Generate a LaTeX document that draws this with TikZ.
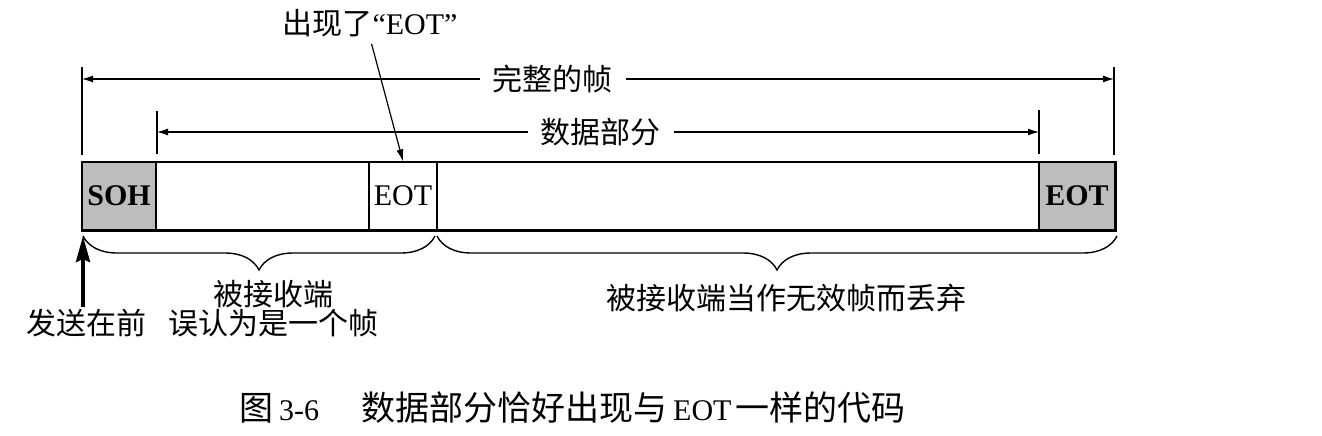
\documentclass[tikz,border=0pt]{standalone}
\usepackage{fontspec}
\setmainfont{Liberation Serif}
\newfontfamily\cjk{Noto Sans CJK SC}
\usetikzlibrary{arrows.meta,decorations.pathreplacing}
\definecolor{cellgray}{gray}{0.74}
\tikzset{
  thin line/.style={line width=1.2pt},
  cell/.style={draw, thin line, minimum height=68pt, inner sep=0pt, font=\fontsize{30}{31}\selectfont},
  dimline/.style={thin line, {Latex[length=11pt,width=7pt]}-{Latex[length=11pt,width=7pt]}},
  dimlabel/.style={fill=white, inner xsep=13pt, inner ysep=2pt, font=\cjk\fontsize{30}{32}\selectfont},
  label/.style={font=\cjk\fontsize{30}{32}\selectfont, inner sep=1pt},
  bracestyle/.style={line width=1.4pt, decorate, decoration={brace, mirror, amplitude=34pt, aspect=0.5}},
  bigarrow/.style={line width=3.8pt, -{Stealth[length=26pt,width=14pt,inset=3pt]}},
  pointer/.style={thin line, -{Latex[length=12pt,width=7pt]}, shorten <=6pt}
}
\newcommand\capcjk[1]{{\cjk\fontsize{34}{36}\selectfont #1}}
\begin{document}
\begin{tikzpicture}[x=1pt,y=-1pt]
\useasboundingbox (0,0) rectangle (1322,436);
% frame
\node[draw, thin line, minimum width=1033pt, minimum height=68pt, inner sep=0pt] (frame) at (598.5,196) {};
\node[cell, fill=cellgray, minimum width=74pt] (soh) at (119,196) {\bfseries SOH};
\node[cell, minimum width=68pt] (eot1) at (403,196) {EOT};
\node[cell, fill=cellgray, minimum width=76pt] (eot2) at (1077,196) {\bfseries EOT};
\draw[line width=3pt] (frame.south west) -- (frame.south east) -- (frame.north east);

% full frame dimension
\coordinate (fullLtop) at (82,67);
\coordinate (fullLbot) at (82,155);
\coordinate (fullRtop) at (1114,67);
\coordinate (fullRbot) at (1114,155);
\coordinate (fullL) at (82,79);
\coordinate (fullR) at (1114,79);
\draw[thin line] (fullLtop) -- (fullLbot);
\draw[thin line] (fullRtop) -- (fullRbot);
\draw[dimline] (fullL) -- node[dimlabel, pos=0.456] (fulltext) {完整的帧} (fullR);

% data dimension
\coordinate (dataLtop) at (157,111);
\coordinate (dataLbot) at (157,154);
\coordinate (dataRtop) at (1039,110);
\coordinate (dataRbot) at (1039,154);
\coordinate (dataL) at (157,132);
\coordinate (dataR) at (1039,132);
\draw[thin line] (dataLtop) -- (dataLbot);
\draw[thin line] (dataRtop) -- (dataRbot);
\draw[dimline] (dataL) -- node[dimlabel, pos=0.503] (datatext) {数据部分} (dataR);

% top label and pointer
\node[inner sep=1pt, font=\fontsize{30}{32}\selectfont] (toplabel) at (370,23) {{\cjk 出现了}“EOT”};
\draw[pointer] (toplabel.south) -- (eot1.north);

% braces
\coordinate (b1L) at (83,236);
\coordinate (b1R) at (435,236);
\coordinate (b2L) at (437,236);
\coordinate (b2R) at (1117,236);
\draw[bracestyle] (b1L) -- (b1R);
\draw[bracestyle] (b2L) -- (b2R);

% send arrow
\coordinate (sendtail) at (83,307);
\coordinate (sendtip) at (83,236);
\draw[bigarrow] (sendtail) -- (sendtip);

% labels
\node[label] (recv1a) at (273,294) {被接收端};
\node[label] (recv1b) at (273,323) {误认为是一个帧};
\node[label] (send) at (87,323) {发送在前};
\node[label] (recv2) at (786,298) {被接收端当作无效帧而丢弃};

% caption
\node[inner sep=0pt, anchor=west, font=\fontsize{30}{34}\selectfont] (caption) at (239,408) {\capcjk{图}\hspace{6pt}3-6\hspace{42pt}\capcjk{数据部分恰好出现与}\hspace{6pt}EOT\hspace{4pt}\capcjk{一样的代码}};
\end{tikzpicture}
\end{document}
